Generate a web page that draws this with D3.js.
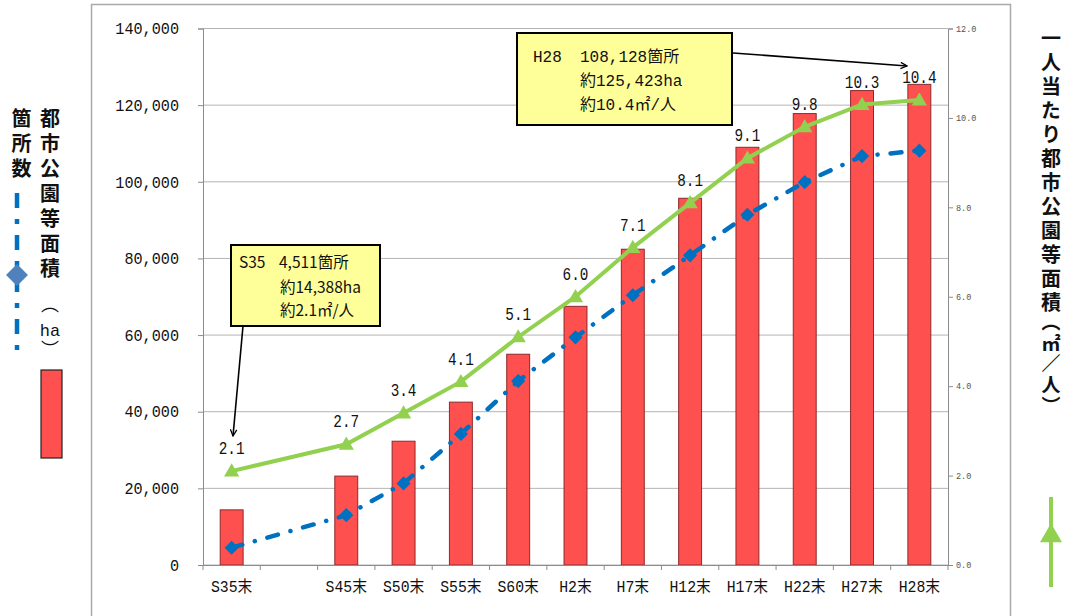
<!DOCTYPE html>
<html lang="ja">
<head>
<meta charset="utf-8">
<script src="https://cdn.jsdelivr.net/npm/d3@7/dist/d3.min.js"></script>
<style>
  html, body { margin: 0; padding: 0; background: #fff; }
  svg { display: block; }
</style>
</head>
<body>
<svg id="chart" width="1068" height="616"></svg>
<script>
// 都市公園等の整備状況（年度末）
const categories = ["S35末", "", "S45末", "S50末", "S55末", "S60末", "H2末", "H7末", "H12末", "H17末", "H22末", "H27末", "H28末"];
// 都市公園等面積（ha）
const areaHa = [14388, null, 23200, 32300, 42500, 55000, 67500, 82400, 95700, 109000, 117800, 123800, 125423];
// 箇所数
const parkCount = [4511, null, 13000, 21300, 34200, 48000, 59400, 70400, 80800, 91400, 99900, 106700, 108128];
// 一人当たり都市公園等面積（㎡/人）
const perCapita = [2.1, null, 2.7, 3.4, 4.1, 5.1, 6.0, 7.1, 8.1, 9.1, 9.8, 10.3, 10.4];
// 軸目盛
const leftTicks = [0, 20000, 40000, 60000, 80000, 100000, 120000, 140000];
const rightTicks = [0, 2, 4, 6, 8, 10, 12];

const svg = d3.select("#chart");
const plot = { left: 203, right: 948, top: 28.5, bottom: 565 };

const MONO = "'Liberation Mono', 'Noto Sans CJK JP', monospace";
const CJK = "'Noto Sans CJK JP', sans-serif";

const idx = d3.range(categories.length);
const x = d3.scaleBand().domain(idx).range([plot.left, plot.right]).padding(0);
const yL = d3.scaleLinear().domain([0, 140000]).range([plot.bottom, plot.top]);
const yR = d3.scaleLinear().domain([0, 12]).range([plot.bottom, plot.top]);
const cx = i => x(i) + x.bandwidth() / 2;

// 外枠
svg.append("rect")
  .attr("x", 91.5).attr("y", 4.5).attr("width", 919).attr("height", 640)
  .attr("fill", "none").attr("stroke", "#a9a9a9").attr("stroke-width", 1.5);

// 目盛線
svg.append("g").selectAll("line").data(leftTicks).join("line")
  .attr("x1", plot.left).attr("x2", plot.right)
  .attr("y1", d => yL(d)).attr("y2", d => yL(d))
  .attr("stroke", "#b4b4b4").attr("stroke-width", 1);

// 棒（面積）
const barW = x.bandwidth() * 0.4;
svg.append("g").selectAll("rect")
  .data(idx.filter(i => areaHa[i] != null)).join("rect")
  .attr("x", i => cx(i) - barW / 2)
  .attr("y", i => yL(areaHa[i]))
  .attr("width", barW)
  .attr("height", i => yL(0) - yL(areaHa[i]))
  .attr("fill", "#ff5050").attr("stroke", "#8c2a2a").attr("stroke-width", 1);

// 左軸
const gL = svg.append("g").attr("transform", `translate(${plot.left},0)`)
  .call(d3.axisLeft(yL).tickValues(leftTicks).tickSize(5).tickPadding(19).tickFormat(d3.format(",")));
gL.selectAll("path, line").attr("stroke", "#8c8c8c");
gL.selectAll("text").attr("font-family", MONO).attr("font-size", 16.5).attr("fill", "#111")
  .each(function () { const t = this.textContent; d3.select(this).attr("textLength", t.length * 9.1).attr("lengthAdjust", "spacingAndGlyphs"); });

// 右軸
const gR = svg.append("g").attr("transform", `translate(${plot.right},0)`)
  .call(d3.axisRight(yR).tickValues(rightTicks).tickSize(5).tickPadding(3).tickFormat(d3.format(".1f")));
gR.selectAll("path, line").attr("stroke", "#8c8c8c");
gR.selectAll("text").attr("font-family", MONO).attr("font-size", 8.5).attr("fill", "#555");

// 横軸
const gX = svg.append("g").attr("transform", `translate(0,${plot.bottom})`)
  .call(d3.axisBottom(x).tickSize(0).tickPadding(15.5).tickFormat(i => categories[i]));
gX.select(".domain").attr("stroke", "#8c8c8c");
gX.selectAll("text").attr("font-family", MONO).attr("font-size", 16).attr("fill", "#111")
  .each(function () {
    const t = this.textContent;
    if (!t) return;
    const latin = t.replace("末", "").length;
    d3.select(this).attr("textLength", latin * 8.8 + 15).attr("lengthAdjust", "spacingAndGlyphs");
  });
// 区切り目盛
svg.append("g").selectAll("line").data(d3.range(categories.length + 1)).join("line")
  .attr("x1", i => i < categories.length ? x(i) : plot.right)
  .attr("x2", i => i < categories.length ? x(i) : plot.right)
  .attr("y1", plot.bottom).attr("y2", plot.bottom + 5)
  .attr("stroke", "#8c8c8c");

// 箇所数（一点鎖線）
const countPts = idx.filter(i => parkCount[i] != null);
svg.append("path")
  .attr("d", d3.line().x(i => cx(i)).y(i => yL(parkCount[i]))(countPts))
  .attr("fill", "none").attr("stroke", "#0070c0").attr("stroke-width", 4.5)
  .attr("stroke-linecap", "round").attr("stroke-dasharray", "11,13,0.1,13");
svg.append("g").selectAll("path").data(countPts).join("path")
  .attr("d", d3.symbol(d3.symbolSquare, 100))
  .attr("transform", i => `translate(${cx(i)},${yL(parkCount[i])}) rotate(45)`)
  .attr("fill", "#0070c0");

// 一人当たり面積（実線）
const capPts = idx.filter(i => perCapita[i] != null);
svg.append("path")
  .attr("d", d3.line().x(i => cx(i)).y(i => yR(perCapita[i]))(capPts))
  .attr("fill", "none").attr("stroke", "#92d050").attr("stroke-width", 4);
svg.append("g").selectAll("path").data(capPts).join("path")
  .attr("d", d3.symbol(d3.symbolTriangle, 100))
  .attr("transform", i => `translate(${cx(i)},${yR(perCapita[i]) + 1})`)
  .attr("fill", "#92d050");

// データラベル
svg.append("g").selectAll("text").data(capPts).join("text")
  .attr("x", i => cx(i)).attr("y", i => yR(perCapita[i]) - 17)
  .attr("text-anchor", "middle")
  .attr("font-family", MONO).attr("font-size", 19).attr("fill", "#111")
  .text(i => d3.format(".1f")(perCapita[i]))
  .attr("textLength", i => d3.format(".1f")(perCapita[i]).length * 8.6)
  .attr("lengthAdjust", "spacingAndGlyphs");

// 矢印
const defs = svg.append("defs");
defs.append("marker").attr("id", "arrow").attr("viewBox", "0 0 10 10")
  .attr("refX", 9).attr("refY", 5).attr("markerWidth", 8).attr("markerHeight", 8)
  .attr("markerUnits", "userSpaceOnUse").attr("orient", "auto")
  .append("path").attr("d", "M1,1 L9,5 L1,9").attr("fill", "none").attr("stroke", "#000").attr("stroke-width", 1.6);

function callout(box, lines, font, size, arrow) {
  const g = svg.append("g");
  g.append("line").attr("x1", arrow[0]).attr("y1", arrow[1]).attr("x2", arrow[2]).attr("y2", arrow[3])
    .attr("stroke", "#000").attr("stroke-width", 1.6).attr("marker-end", "url(#arrow)");
  g.append("rect").attr("x", box[0]).attr("y", box[1]).attr("width", box[2]).attr("height", box[3])
    .attr("fill", "#ffff99").attr("stroke", "#000").attr("stroke-width", 2);
  lines.forEach(l => {
    g.append("text").attr("x", l[0]).attr("y", l[1]).attr("font-family", font).attr("font-size", size)
      .attr("fill", "#111").text(l[2]);
  });
}

callout([231, 245, 149, 81], [
  [239, 268, "S35"], [279, 268, "4,511箇所"],
  [280, 293, "約14,388ha"],
  [280, 316, "約2.1㎡/人"]
], CJK, 15.5, [243, 326, 233, 436]);

callout([517, 33, 215, 92], [
  [533, 61.5, "H28"], [580, 61.5, "108,128箇所"],
  [580, 85.5, "約125,423ha"],
  [580, 109.5, "約10.4㎡/人"]
], MONO, 16, [733, 53, 907, 66]);

// 縦書きテキスト（x は列の中心、y は先頭文字の上端）
function vcol(str, xPos, yTop, size, spacing, weight) {
  return svg.append("text")
    .attr("x", xPos).attr("y", yTop)
    .style("writing-mode", "vertical-rl").style("text-orientation", "upright")
    .attr("letter-spacing", spacing)
    .attr("font-family", CJK).attr("font-size", size).attr("font-weight", weight).attr("fill", "#111")
    .text(str);
}

// 凡例（左）
vcol("箇所数", 21.5, 108, 20, 5, 700);
vcol("都市公園等面積", 50, 108, 20, 5, 700);
vcol("（", 50, 295, 18, 0, 400);
svg.append("text").attr("x", 50).attr("y", 336).attr("text-anchor", "middle")
  .attr("font-family", MONO).attr("font-size", 17).attr("fill", "#111").text("ha");
vcol("）", 50, 340, 18, 0, 400);

svg.append("line").attr("x1", 17).attr("x2", 17).attr("y1", 193).attr("y2", 360)
  .attr("stroke", "#0070c0").attr("stroke-width", 4.5).attr("stroke-dasharray", "15,11,5,11");
svg.append("path").attr("d", d3.symbol(d3.symbolSquare, 240))
  .attr("transform", "translate(17,275) rotate(45)").attr("fill", "#4f81bd");
svg.append("rect").attr("x", 41).attr("y", 370).attr("width", 21).attr("height", 88)
  .attr("fill", "#ff5050").attr("stroke", "#222").attr("stroke-width", 1.2);

// 凡例（右）
vcol("一人当たり都市公園等面積", 1051, 28, 20, 4, 700);
vcol("（㎡／人）", 1051, 312, 19, 2, 700);

svg.append("line").attr("x1", 1051).attr("x2", 1051).attr("y1", 497).attr("y2", 587)
  .attr("stroke", "#92d050").attr("stroke-width", 4);
svg.append("path").attr("d", d3.symbol(d3.symbolTriangle, 210))
  .attr("transform", "translate(1051,536)").attr("fill", "#92d050");
</script>
</body>
</html>
